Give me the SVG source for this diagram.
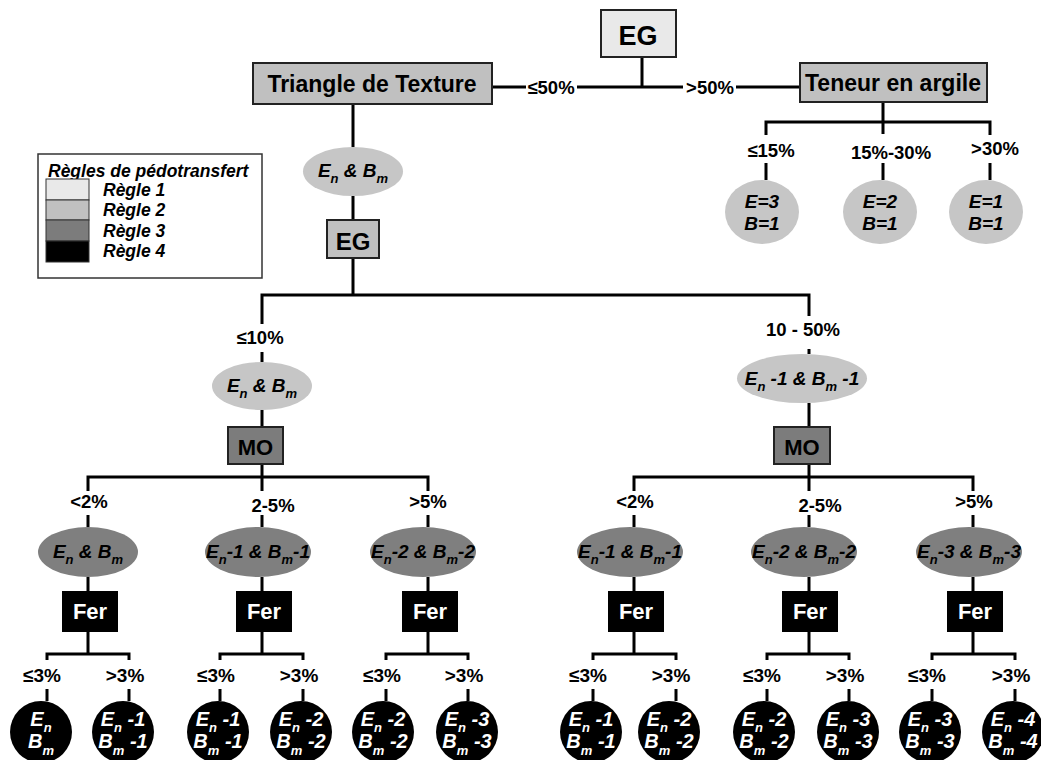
<svg xmlns="http://www.w3.org/2000/svg" width="1041" height="760" viewBox="0 0 1041 760">
<style>
text{font-family:"Liberation Sans",Arial,sans-serif;font-weight:bold;}
.c{fill:none;stroke:#000;stroke-width:3;}
.r1{fill:#e9e9e9;stroke:#222;stroke-width:2;}
.r2{fill:#c0c0c0;stroke:#222;stroke-width:2;}
.r3{fill:#7c7c7c;stroke:#222;stroke-width:2;}
.r4{fill:#000;stroke:#000;stroke-width:2;}
.e2{fill:#c6c6c6;}
.e3{fill:#7f7f7f;}
.e4{fill:#000;}
.lb{font-size:18.5px;text-anchor:middle;fill:#000;}
.lb3{font-size:19px;text-anchor:middle;fill:#000;}
.et{font-size:19px;font-style:italic;text-anchor:middle;fill:#000;}
.ew{font-size:20px;font-style:italic;text-anchor:middle;fill:#fff;}
.sub{font-size:13px;}
.lg{font-size:17.5px;font-style:italic;fill:#000;}
.fer{font-size:22px;text-anchor:middle;fill:#fff;}
.bx{text-anchor:middle;fill:#000;}
</style>
<g id="connectors" class="c">
<path d="M642 57V87M492 87H526M577 87H683M736 87H800"/>
<path d="M353 104V147M353 196V220M353 258V295"/>
<path d="M262 324V295H809V316M262 352V362M262 410V427M262 464V477M809 349V354M809 403V427M809 464V477"/>
<path d="M883 102V122M766 135V122H990V135M883 122V134M766 163V180M883 163V180M990 163V180"/>
<path d="M88 491V477H428V491M262 477V491M88 515V527M262 515V527M428 515V527M88 577V592M262 577V592M428 577V592"/>
<path d="M634 491V477H973V491M809 477V491M634 515V527M809 515V527M973 515V527M634 577V592M809 577V592M973 577V592"/>
<path d="M88 631V654M262 631V654M428 631V654M634 631V654M809 631V654M973 631V654"/>
<path d="M47 660V654H129V660M220 660V654H303V660M386 660V654H468V660M593 660V654H676V660M767 660V654H849V660M932 660V654H1015V660"/>
<path d="M47 689V701M129 689V701M220 689V701M303 689V701M386 689V701M468 689V701M593 689V701M676 689V701M767 689V701M849 689V701M932 689V701M1015 689V701"/>
</g>
<g id="labels">
<text class="lb" x="551" y="94">≤50%</text>
<text class="lb" x="710" y="94">&gt;50%</text>
<text class="lb" x="771" y="157">≤15%</text>
<text class="lb" x="891" y="159">15%-30%</text>
<text class="lb" x="995" y="155">&gt;30%</text>
<text class="lb" x="260" y="344">≤10%</text>
<text class="lb" x="803" y="336">10 - 50%</text>
<text class="lb" x="89" y="508">&lt;2%</text>
<text class="lb" x="273" y="512">2-5%</text>
<text class="lb" x="428" y="508">&gt;5%</text>
<text class="lb" x="635" y="508">&lt;2%</text>
<text class="lb" x="820" y="512">2-5%</text>
<text class="lb" x="974" y="508">&gt;5%</text>
<text class="lb3" x="42" y="682">≤3%</text>
<text class="lb3" x="125" y="682">&gt;3%</text>
<text class="lb3" x="216" y="682">≤3%</text>
<text class="lb3" x="299" y="682">&gt;3%</text>
<text class="lb3" x="382" y="682">≤3%</text>
<text class="lb3" x="464" y="682">&gt;3%</text>
<text class="lb3" x="588" y="682">≤3%</text>
<text class="lb3" x="671" y="682">&gt;3%</text>
<text class="lb3" x="762" y="682">≤3%</text>
<text class="lb3" x="845" y="682">&gt;3%</text>
<text class="lb3" x="927" y="682">≤3%</text>
<text class="lb3" x="1011" y="682">&gt;3%</text>
</g>
<g id="legend">
<rect x="38" y="154" width="224" height="124" fill="#fff" stroke="#333" stroke-width="1.5"/>
<text class="lg" x="48" y="177">Règles de pédotransfert</text>
<rect x="46" y="179" width="43" height="21" fill="#e9e9e9" stroke="#333" stroke-width="1"/>
<rect x="46" y="200" width="43" height="20" fill="#c0c0c0" stroke="#333" stroke-width="1"/>
<rect x="46" y="220" width="43" height="21" fill="#7c7c7c" stroke="#333" stroke-width="1"/>
<rect x="46" y="241" width="43" height="21" fill="#000" stroke="#333" stroke-width="1"/>
<text class="lg" x="103" y="196">Règle 1</text>
<text class="lg" x="103" y="216">Règle 2</text>
<text class="lg" x="103" y="237">Règle 3</text>
<text class="lg" x="103" y="257">Règle 4</text>
</g>
<g id="n-eg-top"><rect class="r1" x="601" y="10" width="75" height="47"/><text class="bx" x="638" y="45" font-size="27">EG</text></g>
<g id="n-triangle"><rect class="r2" x="253" y="63" width="239" height="41"/><text class="bx" x="372" y="92" font-size="23">Triangle de Texture</text></g>
<g id="n-teneur"><rect class="r2" x="800" y="63" width="187" height="39"/><text class="bx" x="893" y="91" font-size="23">Teneur en argile</text></g>
<g id="n-e3"><ellipse class="e2" cx="762" cy="212" rx="37" ry="32"/><text class="et" x="762" y="208">E=3</text><text class="et" x="762" y="230">B=1</text></g>
<g id="n-e2"><ellipse class="e2" cx="880" cy="212" rx="37" ry="32"/><text class="et" x="880" y="208">E=2</text><text class="et" x="880" y="230">B=1</text></g>
<g id="n-e1"><ellipse class="e2" cx="986" cy="212" rx="37" ry="32"/><text class="et" x="986" y="208">E=1</text><text class="et" x="986" y="230">B=1</text></g>
<g id="n-enbm-top"><ellipse class="e2" cx="353" cy="171.5" rx="50" ry="24.5"/><text class="et" x="353" y="177">E<tspan class="sub" dy="6">n</tspan><tspan dy="-6"> &amp; B</tspan><tspan class="sub" dy="6">m</tspan></text></g>
<g id="n-eg-mid"><rect class="r2" x="327" y="220" width="52" height="38"/><text class="bx" x="353" y="250" font-size="24">EG</text></g>
<g id="n-l2-a"><ellipse class="e2" cx="262" cy="386" rx="50" ry="24"/><text class="et" x="262" y="392">E<tspan class="sub" dy="6">n</tspan><tspan dy="-6"> &amp; B</tspan><tspan class="sub" dy="6">m</tspan></text></g>
<g id="n-l2-b"><ellipse class="e2" cx="802" cy="378.5" rx="65" ry="24.5"/><text class="et" x="802" y="385">E<tspan class="sub" dy="6">n</tspan><tspan dy="-6"> -1 &amp; B</tspan><tspan class="sub" dy="6">m</tspan><tspan dy="-6"> -1</tspan></text></g>
<g id="n-mo-a"><rect class="r3" x="228" y="427" width="55" height="37"/><text class="bx" x="255.5" y="455" font-size="22">MO</text></g>
<g id="n-mo-b"><rect class="r3" x="774" y="427" width="56" height="37"/><text class="bx" x="802" y="455" font-size="22">MO</text></g>
<g id="n-l3-1"><ellipse class="e3" cx="88" cy="552" rx="50" ry="25"/><text class="et" x="88" y="558">E<tspan class="sub" dy="6">n</tspan><tspan dy="-6"> &amp; B</tspan><tspan class="sub" dy="6">m</tspan></text></g>
<g id="n-l3-2"><ellipse class="e3" cx="258" cy="552" rx="53" ry="25"/><text class="et" x="258" y="558">E<tspan class="sub" dy="6">n</tspan><tspan dy="-6">-1 &amp; B</tspan><tspan class="sub" dy="6">m</tspan><tspan dy="-6">-1</tspan></text></g>
<g id="n-l3-3"><ellipse class="e3" cx="423" cy="552" rx="53" ry="25"/><text class="et" x="423" y="558">E<tspan class="sub" dy="6">n</tspan><tspan dy="-6">-2 &amp; B</tspan><tspan class="sub" dy="6">m</tspan><tspan dy="-6">-2</tspan></text></g>
<g id="n-l3-4"><ellipse class="e3" cx="630" cy="552" rx="53" ry="25"/><text class="et" x="630" y="558">E<tspan class="sub" dy="6">n</tspan><tspan dy="-6">-1 &amp; B</tspan><tspan class="sub" dy="6">m</tspan><tspan dy="-6">-1</tspan></text></g>
<g id="n-l3-5"><ellipse class="e3" cx="804" cy="552" rx="53" ry="25"/><text class="et" x="804" y="558">E<tspan class="sub" dy="6">n</tspan><tspan dy="-6">-2 &amp; B</tspan><tspan class="sub" dy="6">m</tspan><tspan dy="-6">-2</tspan></text></g>
<g id="n-l3-6"><ellipse class="e3" cx="969" cy="552" rx="53" ry="25"/><text class="et" x="969" y="558">E<tspan class="sub" dy="6">n</tspan><tspan dy="-6">-3 &amp; B</tspan><tspan class="sub" dy="6">m</tspan><tspan dy="-6">-3</tspan></text></g>
<g id="n-fer-1"><rect class="r4" x="63" y="592" width="54" height="39"/><text class="fer" x="90" y="619">Fer</text></g>
<g id="n-fer-2"><rect class="r4" x="237" y="592" width="54" height="39"/><text class="fer" x="264" y="619">Fer</text></g>
<g id="n-fer-3"><rect class="r4" x="403" y="592" width="54" height="39"/><text class="fer" x="430" y="619">Fer</text></g>
<g id="n-fer-4"><rect class="r4" x="609" y="592" width="54" height="39"/><text class="fer" x="636" y="619">Fer</text></g>
<g id="n-fer-5"><rect class="r4" x="783" y="592" width="54" height="39"/><text class="fer" x="810" y="619">Fer</text></g>
<g id="n-fer-6"><rect class="r4" x="948" y="592" width="54" height="39"/><text class="fer" x="975" y="619">Fer</text></g>
<g id="n-c1"><circle class="e4" cx="41" cy="732" r="31"/><text class="ew" x="41" y="726">E<tspan class="sub" dy="6">n</tspan></text><text class="ew" x="41" y="748">B<tspan class="sub" dy="7">m</tspan></text></g>
<g id="n-c2"><circle class="e4" cx="123" cy="732" r="31"/><text class="ew" x="123" y="726">E<tspan class="sub" dy="6">n</tspan><tspan dy="-6"> -1</tspan></text><text class="ew" x="123" y="748">B<tspan class="sub" dy="7">m</tspan><tspan dy="-7"> -1</tspan></text></g>
<g id="n-c3"><circle class="e4" cx="218" cy="732" r="31"/><text class="ew" x="218" y="726">E<tspan class="sub" dy="6">n</tspan><tspan dy="-6"> -1</tspan></text><text class="ew" x="218" y="748">B<tspan class="sub" dy="7">m</tspan><tspan dy="-7"> -1</tspan></text></g>
<g id="n-c4"><circle class="e4" cx="301" cy="732" r="31"/><text class="ew" x="301" y="726">E<tspan class="sub" dy="6">n</tspan><tspan dy="-6"> -2</tspan></text><text class="ew" x="301" y="748">B<tspan class="sub" dy="7">m</tspan><tspan dy="-7"> -2</tspan></text></g>
<g id="n-c5"><circle class="e4" cx="383" cy="732" r="31"/><text class="ew" x="383" y="726">E<tspan class="sub" dy="6">n</tspan><tspan dy="-6"> -2</tspan></text><text class="ew" x="383" y="748">B<tspan class="sub" dy="7">m</tspan><tspan dy="-7"> -2</tspan></text></g>
<g id="n-c6"><circle class="e4" cx="467" cy="732" r="31"/><text class="ew" x="467" y="726">E<tspan class="sub" dy="6">n</tspan><tspan dy="-6"> -3</tspan></text><text class="ew" x="467" y="748">B<tspan class="sub" dy="7">m</tspan><tspan dy="-7"> -3</tspan></text></g>
<g id="n-c7"><circle class="e4" cx="591" cy="732" r="31"/><text class="ew" x="591" y="726">E<tspan class="sub" dy="6">n</tspan><tspan dy="-6"> -1</tspan></text><text class="ew" x="591" y="748">B<tspan class="sub" dy="7">m</tspan><tspan dy="-7"> -1</tspan></text></g>
<g id="n-c8"><circle class="e4" cx="669" cy="732" r="31"/><text class="ew" x="669" y="726">E<tspan class="sub" dy="6">n</tspan><tspan dy="-6"> -2</tspan></text><text class="ew" x="669" y="748">B<tspan class="sub" dy="7">m</tspan><tspan dy="-7"> -2</tspan></text></g>
<g id="n-c9"><circle class="e4" cx="764" cy="732" r="31"/><text class="ew" x="764" y="726">E<tspan class="sub" dy="6">n</tspan><tspan dy="-6"> -2</tspan></text><text class="ew" x="764" y="748">B<tspan class="sub" dy="7">m</tspan><tspan dy="-7"> -2</tspan></text></g>
<g id="n-c10"><circle class="e4" cx="848" cy="732" r="31"/><text class="ew" x="848" y="726">E<tspan class="sub" dy="6">n</tspan><tspan dy="-6"> -3</tspan></text><text class="ew" x="848" y="748">B<tspan class="sub" dy="7">m</tspan><tspan dy="-7"> -3</tspan></text></g>
<g id="n-c11"><circle class="e4" cx="930" cy="732" r="31"/><text class="ew" x="930" y="726">E<tspan class="sub" dy="6">n</tspan><tspan dy="-6"> -3</tspan></text><text class="ew" x="930" y="748">B<tspan class="sub" dy="7">m</tspan><tspan dy="-7"> -3</tspan></text></g>
<g id="n-c12"><circle class="e4" cx="1013" cy="732" r="31"/><text class="ew" x="1013" y="726">E<tspan class="sub" dy="6">n</tspan><tspan dy="-6"> -4</tspan></text><text class="ew" x="1013" y="748">B<tspan class="sub" dy="7">m</tspan><tspan dy="-7"> -4</tspan></text></g>
</svg>
